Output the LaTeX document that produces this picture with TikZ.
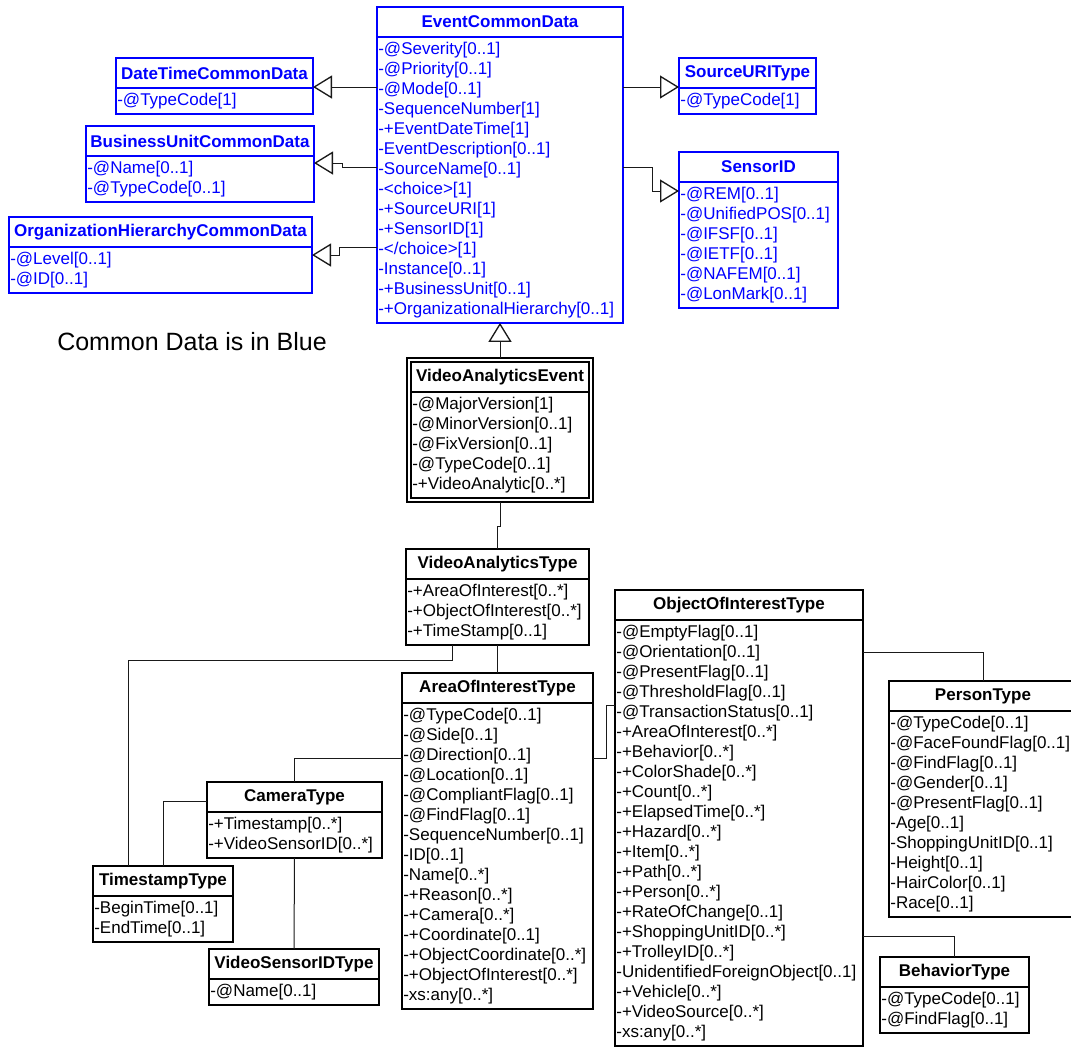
\documentclass[tikz,border=0pt]{standalone}
\usepackage{fontspec}
\setmainfont{Liberation Sans}
\usepackage{tikz}
\usetikzlibrary{arrows.meta,positioning,fit}
\definecolor{common}{HTML}{0000FF}
\definecolor{ink}{HTML}{000000}
\definecolor{wire}{HTML}{1A1A1A}
\hyphenpenalty=10000
\exhyphenpenalty=10000

\begin{document}
\begin{tikzpicture}[x=0.75pt,y=-0.75pt,
  plainbox/.style={draw=ink,text=ink,line width=1.2pt},
  commonbox/.style={draw=common,text=common,line width=1.5pt},
  classhead/.style={draw,inner sep=0pt,outer sep=0pt,minimum height=22.5pt,
    font=\fontsize{12.75}{15}\selectfont\bfseries},
  classbody/.style={draw,inner xsep=1pt,inner ysep=3.75pt,outer sep=0pt,align=left,
    font=\fontsize{12.75}{15}\selectfont},
  wire/.style={draw=wire,line width=0.75pt},
  gen/.style={wire,-{Triangle[open,length=14.25pt,width=17.25pt,line width=1pt]}}]
  \useasboundingbox (0,0) rectangle (1071,1051);

  % class box: header with bold title, body with one attribute per row
  \newcommand{\umlclass}[7][plainbox]{%
    \pgfmathsetmacro{\boxw}{#5*0.75}
    \pgfmathsetmacro{\textw}{#5*0.75-2}
    \node[classhead,#1,minimum width=\boxw pt,anchor=north west] (#2) at (#3,#4) {#6};
    \node[classbody,#1,text width=\textw pt,anchor=north] (#2-b) at (#2.south) {#7};
  }

  % Common data (blue)
  \umlclass[commonbox]{ecd}{377}{7}{246}{EventCommonData}
    {-@Severity[0..1]\\-@Priority[0..1]\\-@Mode[0..1]\\-SequenceNumber[1]\\-+EventDateTime[1]\\-EventDescription[0..1]\\-SourceName[0..1]\\-<choice>[1]\\-+SourceURI[1]\\-+SensorID[1]\\-</choice>[1]\\-Instance[0..1]\\-+BusinessUnit[0..1]\\-+OrganizationalHierarchy[0..1]}
  \umlclass[commonbox]{dtc}{116}{58}{197}{DateTimeCommonData}{-@TypeCode[1]}
  \umlclass[commonbox]{buc}{86}{126}{228}{BusinessUnitCommonData}{-@Name[0..1]\\-@TypeCode[0..1]}
  \umlclass[commonbox]{ohc}{9}{217}{303}{OrganizationHierarchyCommonData}{-@Level[0..1]\\-@ID[0..1]}
  \umlclass[commonbox]{sut}{679}{58}{137}{SourceURIType}{-@TypeCode[1]}
  \umlclass[commonbox]{sid}{679}{152}{159}{SensorID}
    {-@REM[0..1]\\-@UnifiedPOS[0..1]\\-@IFSF[0..1]\\-@IETF[0..1]\\-@NAFEM[0..1]\\-@LonMark[0..1]}

  \node[font=\fontsize{18.75}{22}\selectfont,anchor=west,inner sep=0pt] (legend) at (57,342)
    {Common Data is in Blue};

  % Video analytics types (black)
  \umlclass{vae}{411}{362}{178}{VideoAnalyticsEvent}
    {-@MajorVersion[1]\\-@MinorVersion[0..1]\\-@FixVersion[0..1]\\-@TypeCode[0..1]\\-+VideoAnalytic[0..*]}
  \node[draw=ink,line width=1.2pt,inner sep=3pt,outer sep=0pt,fit=(vae)(vae-b)] (vaeframe) {};
  \umlclass{vat}{406}{549}{183}{VideoAnalyticsType}
    {-+AreaOfInterest[0..*]\\-+ObjectOfInterest[0..*]\\-+TimeStamp[0..1]}
  \umlclass{aoi}{402}{673}{191}{AreaOfInterestType}
    {-@TypeCode[0..1]\\-@Side[0..1]\\-@Direction[0..1]\\-@Location[0..1]\\-@CompliantFlag[0..1]\\-@FindFlag[0..1]\\-SequenceNumber[0..1]\\-ID[0..1]\\-Name[0..*]\\-+Reason[0..*]\\-+Camera[0..*]\\-+Coordinate[0..1]\\-+ObjectCoordinate[0..*]\\-+ObjectOfInterest[0..*]\\-xs:any[0..*]}
  \umlclass{ooi}{615}{590}{248}{ObjectOfInterestType}
    {-@EmptyFlag[0..1]\\-@Orientation[0..1]\\-@PresentFlag[0..1]\\-@ThresholdFlag[0..1]\\-@TransactionStatus[0..1]\\-+AreaOfInterest[0..*]\\-+Behavior[0..*]\\-+ColorShade[0..*]\\-+Count[0..*]\\-+ElapsedTime[0..*]\\-+Hazard[0..*]\\-+Item[0..*]\\-+Path[0..*]\\-+Person[0..*]\\-+RateOfChange[0..1]\\-+ShoppingUnitID[0..*]\\-+TrolleyID[0..*]\\-UnidentifiedForeignObject[0..1]\\-+Vehicle[0..*]\\-+VideoSource[0..*]\\-xs:any[0..*]}
  \umlclass{per}{889}{681}{188}{PersonType}
    {-@TypeCode[0..1]\\-@FaceFoundFlag[0..1]\\-@FindFlag[0..1]\\-@Gender[0..1]\\-@PresentFlag[0..1]\\-Age[0..1]\\-ShoppingUnitID[0..1]\\-Height[0..1]\\-HairColor[0..1]\\-Race[0..1]}
  \umlclass{beh}{880}{957}{149}{BehaviorType}{-@TypeCode[0..1]\\-@FindFlag[0..1]}
  \umlclass{cam}{207}{782}{175}{CameraType}{-+Timestamp[0..*]\\-+VideoSensorID[0..*]}
  \umlclass{tst}{93}{866}{140}{TimestampType}{-BeginTime[0..1]\\-EndTime[0..1]}
  \umlclass{vsd}{209}{949}{170}{VideoSensorIDType}{-@Name[0..1]}

  % generalisations toward the common data
  \draw[gen] (ecd-b.west |- 0,87) -- (dtc-b.east |- 0,87);
  \draw[gen] (ecd-b.west |- 0,167) -- ++(-35,0) |- (buc-b.east |- 0,163);
  \draw[gen] (ecd-b.west |- 0,247) -- ++(-38,0) |- (ohc-b.east |- 0,255);
  \draw[gen] (ecd-b.east |- 0,87) -- (sut-b.west |- 0,87);
  \draw[gen] (ecd-b.east |- 0,167) -- ++(29,0) |- (sid-b.west |- 0,191);
  \draw[gen] (vaeframe.north) -- (ecd-b.south);

  % containment links
  \draw[wire] (vaeframe.south) -- ++(0,25) -| (vat.north);
  \draw[wire] (vat-b.south) -- (aoi.north);
  \draw[wire] (vat-b.south -| 452,0) |- (128,660) -- (128,0 |- tst.north);
  \draw[wire] (aoi-b.west |- 0,758) -| (cam.north);
  \draw[wire] (cam.west |- 0,801) -| (tst.north);
  \draw[wire] (cam-b.south) -- (vsd.north);
  \draw[wire] (aoi-b.east |- 0,758) -- ++(13,0) |- (ooi-b.west |- 0,705);
  \draw[wire] (ooi-b.east |- 0,652) -| (per.north);
  \draw[wire] (ooi-b.east |- 0,936) -| (beh.north);
\end{tikzpicture}
\end{document}
